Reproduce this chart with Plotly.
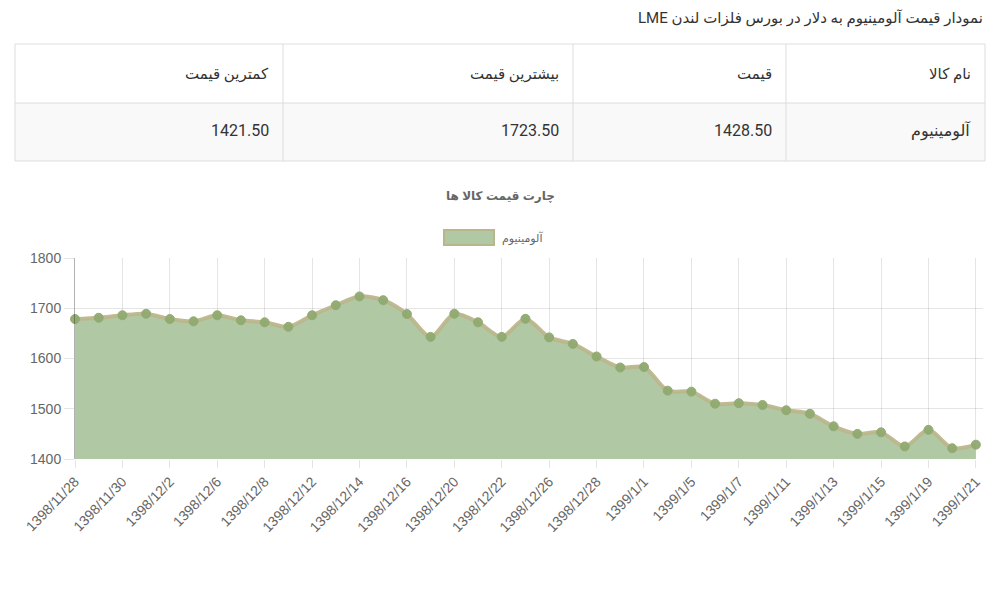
import plotly.graph_objects as go

# data
dates = ['1398/11/28', '1398/11/29', '1398/11/30', '1398/12/1', '1398/12/2',
         '1398/12/5', '1398/12/6', '1398/12/7', '1398/12/8', '1398/12/9',
         '1398/12/12', '1398/12/13', '1398/12/14', '1398/12/15', '1398/12/16',
         '1398/12/19', '1398/12/20', '1398/12/21', '1398/12/22', '1398/12/23',
         '1398/12/26', '1398/12/27', '1398/12/28', '1398/12/29', '1399/1/1',
         '1399/1/4', '1399/1/5', '1399/1/6', '1399/1/7', '1399/1/8',
         '1399/1/11', '1399/1/12', '1399/1/13', '1399/1/14', '1399/1/15',
         '1399/1/18', '1399/1/19', '1399/1/20', '1399/1/21']
prices = [1678.5, 1681, 1686, 1689, 1678.5, 1674, 1686, 1676, 1672, 1663,
          1686, 1706, 1723.5, 1716, 1688.5, 1643, 1689, 1672, 1643, 1679,
          1642, 1629, 1604, 1582, 1583, 1536, 1534, 1510, 1511, 1507.5,
          1497, 1490, 1465, 1450, 1453, 1425, 1458, 1421.5, 1428.5]
tick_dates = dates[::2]

series_name = 'آلومینیوم'
page_title = 'نمودار قیمت آلومینیوم به دلار در بورس فلزات لندن LME'
chart_title = 'چارت قیمت کالا ها'
table_header = ['نام کالا', 'قیمت', 'بیشترین قیمت', 'کمترین قیمت']
table_row = ['آلومینیوم', '1428.50', '1723.50', '1421.50']

# page has an 8px body margin, so the figure starts at (8, 8)
OFF = 8
W, H = 1002 - OFF, 612 - OFF
def px(x):
    return (x - OFF) / W
def py(y):
    return 1 - (y - OFF) / H

FONT = 'Roboto, DejaVu Sans, sans-serif'
RTL = lambda s: '\u202b' + s + '\u202c'

fig = go.Figure()
fig.add_trace(go.Scatter(
    x=list(range(len(dates))), y=prices, name=series_name,
    mode='lines+markers', fill='tozeroy',
    fillcolor='rgba(176,201,164,1)',
    line=dict(color='rgba(186,182,140,0.95)', width=4, shape='spline', smoothing=0.8),
    marker=dict(color='rgba(142,170,112,0.95)', size=9,
                line=dict(color='rgba(150,170,115,1)', width=1)),
    cliponaxis=False, showlegend=False, hoverinfo='x+y',
))

shapes = []
annos = []

# table drawn by hand
border = '#dddddd'
col_edges = [985, 786, 573, 283, 15]
shapes.append(dict(type='rect', xref='paper', yref='paper', x0=px(15), x1=px(985),
                   y0=py(161), y1=py(103), fillcolor='#f9f9f9', line=dict(width=0), layer='below'))
shapes.append(dict(type='rect', xref='paper', yref='paper', x0=px(15), x1=px(985),
                   y0=py(161), y1=py(44), line=dict(color=border, width=1)))
shapes.append(dict(type='line', xref='paper', yref='paper', x0=px(15), x1=px(985),
                   y0=py(103), y1=py(103), line=dict(color=border, width=1)))
for cx in col_edges[1:-1]:
    shapes.append(dict(type='line', xref='paper', yref='paper', x0=px(cx), x1=px(cx),
                       y0=py(44), y1=py(161), line=dict(color=border, width=1)))
for i in range(4):
    right = col_edges[i] - 12
    annos.append(dict(xref='paper', yref='paper', x=px(right), y=py(74), text=RTL(table_header[i]),
                      showarrow=False, xanchor='right', yanchor='middle',
                      font=dict(family=FONT, size=15, color='#333333')))
    annos.append(dict(xref='paper', yref='paper', x=px(right), y=py(131), text=RTL(table_row[i]),
                      showarrow=False, xanchor='right', yanchor='middle',
                      font=dict(family=FONT, size=16, color='#333333')))

# page title
annos.append(dict(xref='paper', yref='paper', x=px(985), y=py(18), text=RTL(page_title),
                  showarrow=False, xanchor='right', yanchor='middle',
                  font=dict(family=FONT, size=15, color='#333333')))
# chart title
annos.append(dict(xref='paper', yref='paper', x=px(500), y=py(196), text='<b>' + RTL(chart_title) + '</b>',
                  showarrow=False, xanchor='center', yanchor='middle',
                  font=dict(family='Liberation Sans, DejaVu Sans', size=12, color='#666666')))
# legend
shapes.append(dict(type='rect', xref='paper', yref='paper', x0=px(444), x1=px(494),
                   y0=py(245), y1=py(230), fillcolor='rgba(176,201,164,1)',
                   line=dict(color='rgba(186,182,140,1)', width=2)))
annos.append(dict(xref='paper', yref='paper', x=px(500), y=py(238), text=RTL(series_name),
                  showarrow=False, xanchor='left', yanchor='middle',
                  font=dict(family='Liberation Sans, DejaVu Sans', size=11, color='#666666')))

grid = 'rgba(0,0,0,0.1)'
fig.update_layout(
    width=W, height=H, autosize=False,
    margin=dict(l=0, r=0, t=0, b=0),
    paper_bgcolor='white', plot_bgcolor='white',
    shapes=shapes, annotations=annos,
    xaxis=dict(domain=[px(75), px(983)], range=[0, 38.3], automargin=False,
               tickmode='array', tickvals=list(range(0, len(dates), 2)), ticktext=tick_dates,
               tickangle=-46, showgrid=True, gridcolor=grid, zeroline=False,
               ticks='outside', ticklen=8, tickcolor=grid, showline=False,
               tickfont=dict(family='Liberation Sans, Arial', size=14, color='#666666')),
    yaxis=dict(domain=[py(459), py(258)], range=[1400, 1800], dtick=100, automargin=False,
               showgrid=True, gridcolor=grid, zeroline=False,
               ticks='outside', ticklen=10, tickcolor=grid,
               showline=True, linecolor='rgba(0,0,0,0.3)', linewidth=1,
               tickfont=dict(family='Liberation Sans, Arial', size=14, color='#666666')),
)

fig.write_html("out.html")
